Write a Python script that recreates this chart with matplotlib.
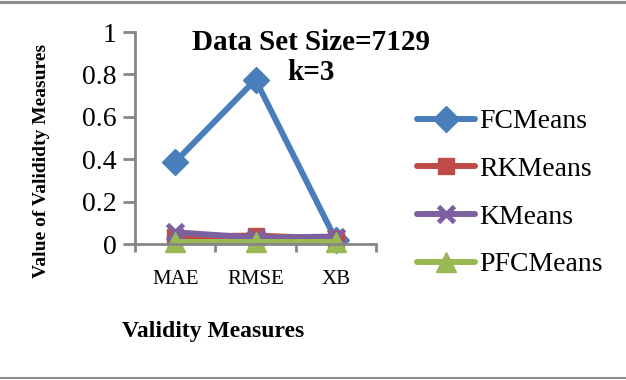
import numpy as np
import matplotlib.pyplot as plt
from matplotlib.lines import Line2D

plt.rcParams['font.family'] = ['Liberation Serif', 'DejaVu Serif']

# data
measures = ["MAE", "RMSE", "XB"]
fcmeans = [0.387, 0.775, 0.02]
rkmeans = [0.035, 0.04, 0.025]
kmeans = [0.055, 0.03, 0.035]
pfcmeans = [0.01, 0.01, 0.01]

series = [
    ("FCMeans", fcmeans, "#4A7EBB", "D", 13),
    ("RKMeans", rkmeans, "#BE4B48", "s", 11),
    ("KMeans", kmeans, "#7D60A0", "x", 12),
    ("PFCMeans", pfcmeans, "#98B954", "^", 14),
]

grey = "#868686"

fig = plt.figure(figsize=(6.26, 3.80), dpi=100)
ax = fig.add_axes([135 / 626, 1 - 244 / 380, 241 / 626, 212 / 380])

x = np.arange(len(measures))
handles = []
for name, vals, col, mk, ms in series:
    h, = ax.plot(x, vals, color=col, lw=4.3, marker=mk, markersize=ms,
                 markeredgewidth=3.5 if mk == "x" else 1, markeredgecolor=col,
                 markerfacecolor=col, clip_on=False, label=name,
                 solid_capstyle="round")
    handles.append(h)

ax.set_xlim(-0.5, 2.5)
ax.set_ylim(0, 1)
ax.set_yticks([0, 0.2, 0.4, 0.6, 0.8, 1])
ax.set_yticklabels(["0", "0.2", "0.4", "0.6", "0.8", "1"], fontsize=20)
ax.set_xticks([-0.5, 0.5, 1.5, 2.5])
ax.set_xticklabels([])
ax.set_xticks(x, minor=True)
ax.set_xticklabels(measures, minor=True, fontsize=15)
ax.tick_params(axis="x", which="minor", length=0, pad=19)
ax.tick_params(axis="x", which="major", length=6, width=2, color=grey)
ax.tick_params(axis="y", length=9, width=2, color=grey, pad=4)

for s in ["top", "right"]:
    ax.spines[s].set_visible(False)
for s in ["left", "bottom"]:
    ax.spines[s].set_color(grey)
    ax.spines[s].set_linewidth(2)

fig.text(311 / 626, 1 - 29 / 380, "Data Set Size=7129\nk=3", ha="center",
         va="top", fontsize=21, fontweight="bold", linespacing=1.15)

fig.text(213 / 626, 1 - 332 / 380, "Validity Measures", ha="center",
         va="center", fontsize=17, fontweight="bold")
fig.text(42 / 626, 1 - 161 / 380, "Value of Valididty Measures", ha="center",
         va="center", rotation=90, fontsize=14, fontweight="bold")

fig.legend(handles=handles, loc="center left",
           bbox_to_anchor=(417 / 626, 1 - 193 / 380), frameon=False,
           fontsize=20, handlelength=2.1, handletextpad=0.15,
           labelspacing=0.8, borderpad=0, borderaxespad=0)

fig.add_artist(Line2D([0, 1], [1 - 1.5 / 380] * 2, color="#8c8c8c", lw=2.2))
fig.add_artist(Line2D([0, 1], [1 - 378 / 380] * 2, color="#8c8c8c", lw=1.5))

fig.savefig("out.png", dpi=100)
